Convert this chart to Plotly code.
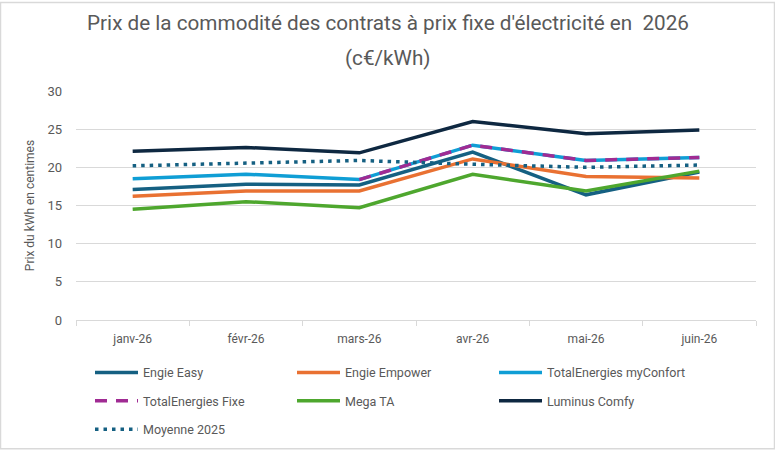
import plotly.graph_objects as go

# monthly commodity prices (c€/kWh)
months = ["janv-26", "févr-26", "mars-26", "avr-26", "mai-26", "juin-26"]

engie_easy = [17.1, 17.8, 17.7, 22.0, 16.4, 19.4]
engie_empower = [16.2, 16.9, 16.9, 21.1, 18.8, 18.6]
total_myconfort = [18.5, 19.1, 18.4, 22.9, 20.9, 21.3]
total_fixe = [None, None, 18.4, 22.9, 20.9, 21.3]
mega_ta = [14.5, 15.5, 14.7, 19.1, 16.9, 19.5]
luminus_comfy = [22.1, 22.6, 21.9, 26.0, 24.4, 24.9]
moyenne_2025 = [20.2, 20.5, 20.9, 20.4, 20.0, 20.3]

# name, values, colour, dash, legend row
series = [
    ("Engie Easy", engie_easy, "#156082", "solid", "legend"),
    ("Engie Empower", engie_empower, "#E97132", "solid", "legend"),
    ("TotalEnergies myConfort", total_myconfort, "#0F9ED5", "solid", "legend"),
    ("TotalEnergies Fixe", total_fixe, "#A02B93", "12px,9px", "legend2"),
    ("Mega TA", mega_ta, "#4EA72E", "solid", "legend2"),
    ("Luminus Comfy", luminus_comfy, "#0E2841", "solid", "legend2"),
    ("Moyenne 2025", moyenne_2025, "#156082", "3.5px,5px", "legend3"),
]

fig = go.Figure()

for name, vals, color, dash, leg in series:
    fig.add_trace(
        go.Scatter(
            x=months,
            y=vals,
            name=name,
            mode="lines",
            line=dict(color=color, width=3.5, dash=dash),
            legend=leg,
        )
    )

grey = "#595959"
fig.update_xaxes(
    type="category",
    range=[-0.5, 5.5],
    tickson="boundaries",
    ticks="outside",
    ticklen=5,
    tickcolor="#D9D9D9",
    showline=True,
    linecolor="#D9D9D9",
    linewidth=1,
    showgrid=False,
    ticklabelstandoff=8,
    tickfont=dict(size=12, color=grey),
)
fig.update_yaxes(
    range=[0, 30],
    dtick=5,
    showgrid=True,
    gridcolor="#D9D9D9",
    zeroline=False,
    tickfont=dict(size=13, color=grey),
    title_text="Prix du kWh en centimes",
    title_font=dict(size=12, color=grey),
    title_standoff=10,
    ticklabelstandoff=13,
)

legend_style = dict(
    orientation="h",
    xanchor="left",
    yanchor="middle",
    x=14 / 680,
    entrywidth=144,
    entrywidthmode="pixels",
    itemwidth=43,
    font=dict(size=12.5, color=grey),
    bgcolor="rgba(0,0,0,0)",
)

fig.update_layout(
    width=775,
    height=457,
    margin=dict(l=76, r=19, t=91, b=132),
    paper_bgcolor="white",
    plot_bgcolor="white",
    font=dict(family="Roboto, Liberation Sans, sans-serif", color=grey),
    title=dict(
        text="Prix de la commodité des contrats à prix fixe d'électricité en  2026",
        x=(388 - 76) / 680,
        xanchor="center",
        xref="paper",
        yref="container",
        y=1 - 23 / 457,
        yanchor="middle",
        font=dict(size=20.7, color=grey),
    ),
    annotations=[
        dict(
            text="(c€/kWh)",
            xref="paper",
            yref="paper",
            x=(388 - 76) / 680,
            y=1 + (91 - 57) / 234,
            xanchor="center",
            yanchor="middle",
            showarrow=False,
            font=dict(size=20.7, color=grey),
        )
    ],
    showlegend=True,
    legend=dict(legend_style, y=-(379 - 325) / 234),
    legend2=dict(legend_style, y=-(408 - 325) / 234),
    legend3=dict(legend_style, y=-(437 - 325) / 234),
    shapes=[
        dict(
            type="rect",
            xref="paper",
            yref="paper",
            x0=-75.5 / 680,
            x1=1 + 18.5 / 680,
            y0=-131.5 / 234,
            y1=1 + 90.5 / 234,
            line=dict(color="#D9D9D9", width=1.5),
        )
    ],
)

fig.write_html(
    "out.html",
    config={"displayModeBar": False},
    post_script="document.body.style.margin='0';",
)
